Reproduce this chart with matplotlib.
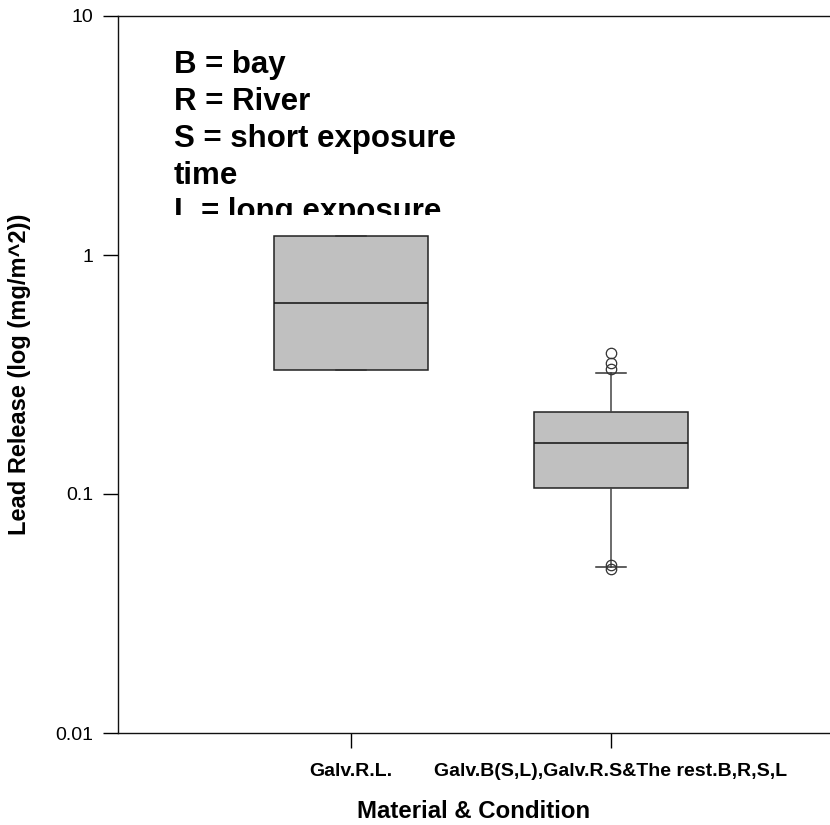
import matplotlib
matplotlib.use("Agg")
import matplotlib.pyplot as plt
from matplotlib.transforms import Bbox, TransformedBbox

plt.rcParams['font.family'] = ['Liberation Sans', 'DejaVu Sans']

# Box statistics (mg/m^2)
categories = ["Galv.R.L.", "Galv.B(S,L),Galv.R.S&The rest.B,R,S,L"]
q1 = [0.33, 0.106]
median = [0.63, 0.163]
q3 = [1.20, 0.22]
whisker_low = [0.33, 0.0495]
whisker_high = [1.20, 0.321]
outliers = [[], [0.389, 0.353, 0.333, 0.0504, 0.0486]]

legend_lines = ["B = bay", "R = River", "S = short exposure", "time", "L = long exposure"]
y_ticks = [0.01, 0.1, 1, 10]
y_tick_labels = ["0.01", "0.1", "1", "10"]

W, H = 830, 825
fig = plt.figure(figsize=(W / 100, H / 100), dpi=100)
ax = fig.add_axes([118 / W, (H - 733) / H, 1 - 118 / W, (733 - 16) / H])

stats = []
for i, name in enumerate(categories):
    stats.append(dict(label=name, q1=q1[i], med=median[i], q3=q3[i],
                      whislo=whisker_low[i], whishi=whisker_high[i],
                      fliers=outliers[i]))

positions = [1, 2]
ax.bxp(stats, positions=positions, widths=0.595, patch_artist=True,
       capwidths=0.115,
       boxprops=dict(facecolor="#c0c0c0", edgecolor="#222222", linewidth=1.1),
       medianprops=dict(color="#111111", linewidth=1.1),
       whiskerprops=dict(color="#444444", linewidth=1.1),
       capprops=dict(color="#333333", linewidth=1.1),
       flierprops=dict(marker="o", markerfacecolor="none", markeredgecolor="#333333",
                       markersize=7.5, markeredgewidth=0.9))

ax.set_yscale("log")
ax.set_ylim(0.01, 10)
ax.set_xlim(0.104, 2.842)
ax.set_yticks(y_ticks)
ax.set_yticklabels(y_tick_labels)
ax.yaxis.set_minor_locator(matplotlib.ticker.NullLocator())
ax.set_xticks(positions)
ax.set_xticklabels(categories, fontweight="bold")

ax.tick_params(axis="y", direction="out", length=10.8, width=1, pad=7.2, labelsize=14, colors="#000000")
ax.tick_params(axis="x", direction="out", length=10.8, width=1, pad=10.6, labelsize=14)

for side in ["left", "top", "bottom"]:
    ax.spines[side].set_linewidth(1.0)
    ax.spines[side].set_color("#111111")
ax.spines["right"].set_visible(False)

ax.set_ylabel("Lead Release (log (mg/m^2))", fontsize=17, fontweight="bold", labelpad=17)
ax.set_xlabel("Material & Condition", fontsize=17.3, fontweight="bold", labelpad=14.5)

# Key text block, clipped at its bottom edge
clip = TransformedBbox(Bbox.from_extents(0, (H - 215) / H, 1, 1), fig.transFigure)
baselines = [73, 110, 147, 184, 220]
for line, yb in zip(legend_lines, baselines):
    t = fig.text(174 / W, (H - yb) / H, line, fontsize=22.5, fontweight="bold",
                 va="baseline", ha="left")
    t.set_clip_box(clip)
    t.set_clip_on(True)

fig.savefig("out.png", dpi=100)
